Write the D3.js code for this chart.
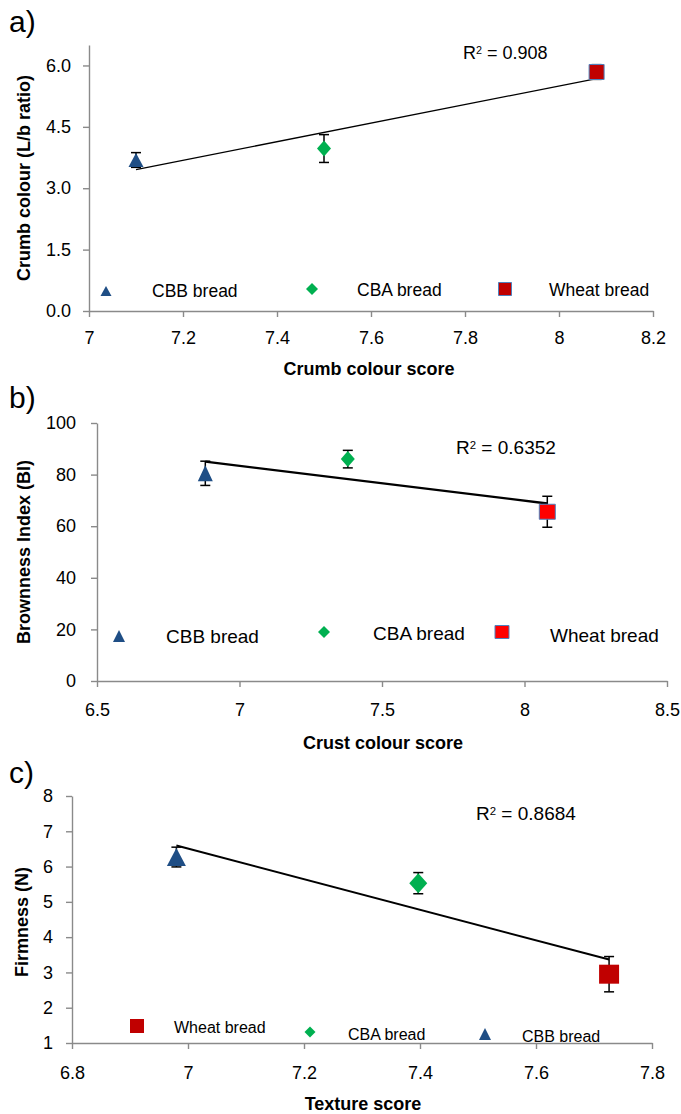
<!DOCTYPE html>
<html>
<head>
<meta charset="utf-8">
<script src="https://cdn.jsdelivr.net/npm/d3@7"></script>
<style>
  body { margin: 0; background: #fff; }
  svg text { font-family: "Liberation Sans", Arial, sans-serif; fill: #000; }
</style>
</head>
<body>
<svg id="chart" width="681" height="1114"></svg>
<script>
// groups (order of the points in a) and b))
var groups = ['CBB bread', 'CBA bread', 'Wheat bread'];

// a) crumb colour
var crumbScore = [7.1, 7.5, 8.08];
var crumbRatio = [3.69, 3.97, 5.84];
var crumbRatioErr = [0.18, 0.34, 0.18];
var crumbXTicks = [7, 7.2, 7.4, 7.6, 7.8, 8, 8.2];
var crumbYTicks = [0, 1.5, 3, 4.5, 6];

// b) crust colour / browning
var crustScore = [6.88, 7.38, 8.08];
var brownIndex = [80.5, 86, 65.6];
var brownIndexErr = [4.7, 3.4, 6];
var crustXTicks = [6.5, 7, 7.5, 8, 8.5];
var brownYTicks = [0, 20, 40, 60, 80, 100];

// c) texture / firmness
var textureScore = [6.98, 7.397, 7.726];
var firmness = [6.27, 5.53, 2.95];
var firmnessErr = [0.28, 0.3, 0.5];
var textureXTicks = [6.8, 7, 7.2, 7.4, 7.6, 7.8];
var firmYTicks = [1, 2, 3, 4, 5, 6, 7, 8];

var r2Labels = ['0.908', '0.6352', '0.8684'];

var svg = d3.select('#chart');

var colors = {'CBB bread': '#1F4E85', 'CBA bread': '#00B050'};

function shape(type, w, h) {
    if (type === 'CBB bread')
        return 'M0,' + (-h / 2) + 'L' + (w / 2) + ',' + (h / 2) + 'L' + (-w / 2) + ',' + (h / 2) + 'Z';
    if (type === 'CBA bread')
        return 'M0,' + (-h / 2) + 'L' + (w / 2) + ',0L0,' + (h / 2) + 'L' + (-w / 2) + ',0Z';
    return 'M' + (-w / 2) + ',' + (-h / 2) + 'h' + w + 'v' + h + 'h' + (-w) + 'Z';
}

function drawPanel(p) {
    var g = svg.append('g');

    var x = d3.scaleLinear().domain(p.xDomain).range([p.left, p.right]);
    var y = d3.scaleLinear().domain(p.yDomain).range([p.bottom, p.top]);

    // axes
    var xAxis = g.append('g')
        .attr('transform', 'translate(0,' + p.bottom + ')')
        .call(d3.axisBottom(x).tickValues(p.xTicks).tickFormat(d3.format('~g'))
            .tickSizeInner(6).tickSizeOuter(0).tickPadding(p.xPad));
    var yAxis = g.append('g')
        .attr('transform', 'translate(' + p.left + ',0)')
        .call(d3.axisLeft(y).tickValues(p.yTicks).tickFormat(p.yFmt)
            .tickSizeInner(6).tickSizeOuter(0).tickPadding(p.yPad));
    [xAxis, yAxis].forEach(function(a) {
        a.select('.domain').attr('stroke', '#8a8a8a').attr('stroke-width', 1.4);
        a.selectAll('.tick line').attr('stroke', '#8a8a8a').attr('stroke-width', 1.4);
        a.selectAll('.tick text').style('font-size', p.tickSize + 'px').attr('fill', '#000');
    });

    // trendline from least squares fit
    var mx = d3.mean(p.xs), my = d3.mean(p.ys);
    var sxy = d3.sum(p.xs, function(v, i) { return (v - mx) * (p.ys[i] - my); });
    var sxx = d3.sum(p.xs, function(v) { return (v - mx) * (v - mx); });
    var slope = sxy / sxx, icpt = my - slope * mx;
    var ext = d3.extent(p.xs);
    g.append('path')
        .datum(ext.map(function(v) { return [v, icpt + slope * v]; }))
        .attr('d', d3.line().x(function(d) { return x(d[0]); }).y(function(d) { return y(d[1]); }))
        .attr('stroke', '#000')
        .attr('stroke-width', p.trendWidth)
        .attr('fill', 'none');

    var pts = p.xs.map(function(v, i) {
        return {x: v, y: p.ys[i], e: p.errs[i], name: groups[i]};
    });

    // error bars
    var eb = g.selectAll('g.err').data(pts).enter().append('g')
        .attr('stroke', '#000').attr('stroke-width', 1.5);
    eb.append('line')
        .attr('x1', function(d) { return x(d.x); })
        .attr('x2', function(d) { return x(d.x); })
        .attr('y1', function(d) { return y(d.y - d.e); })
        .attr('y2', function(d) { return y(d.y + d.e); });
    [-1, 1].forEach(function(s) {
        eb.append('line')
            .attr('x1', function(d) { return x(d.x) - 5; })
            .attr('x2', function(d) { return x(d.x) + 5; })
            .attr('y1', function(d) { return y(d.y + s * d.e); })
            .attr('y2', function(d) { return y(d.y + s * d.e); });
    });

    // markers
    g.selectAll('path.mk').data(pts).enter().append('path')
        .attr('class', 'mk')
        .attr('transform', function(d) { return 'translate(' + x(d.x) + ',' + y(d.y) + ')'; })
        .attr('d', function(d) { var s = p.markSize[d.name]; return shape(d.name, s[0], s[1]); })
        .attr('fill', function(d) { return colors[d.name] || p.wheatFill; })
        .attr('stroke', function(d) { return d.name === 'Wheat bread' ? p.wheatStroke : 'none'; })
        .attr('stroke-width', 1);

    // legend
    var lg = g.selectAll('g.lg').data(p.legend).enter().append('g');
    lg.append('path')
        .attr('transform', function(d) { return 'translate(' + d.mx + ',' + d.my + ')'; })
        .attr('d', function(d) { var s = p.legendSize[d.name]; return shape(d.name, s[0], s[1]); })
        .attr('fill', function(d) { return colors[d.name] || p.wheatFill; })
        .attr('stroke', function(d) { return d.name === 'Wheat bread' ? p.wheatStroke : 'none'; })
        .attr('stroke-width', 1);
    lg.append('text')
        .attr('x', function(d) { return d.tx; })
        .attr('y', function(d) { return d.ty; })
        .attr('dy', '0.35em')
        .style('font-size', p.legendFont + 'px')
        .text(function(d) { return d.name; });

    // R squared
    var r2 = g.append('text')
        .attr('x', p.r2x).attr('y', p.r2y).attr('dy', '0.35em')
        .style('font-size', p.r2Font + 'px');
    r2.append('tspan').text('R');
    r2.append('tspan').attr('dy', '-0.45em').style('font-size', '0.6em').text('2');
    r2.append('tspan').attr('dy', '0.27em').text(' = ' + p.r2);

    // axis titles
    g.append('text')
        .attr('x', p.xTitle[0]).attr('y', p.xTitle[1])
        .attr('text-anchor', 'middle').attr('dy', '0.35em')
        .style('font-size', '18px').style('font-weight', 'bold')
        .text(p.xLabel);
    g.append('text')
        .attr('transform', 'translate(' + p.yTitle[0] + ',' + p.yTitle[1] + ') rotate(-90)')
        .attr('text-anchor', 'middle').attr('dy', '0.35em')
        .style('font-size', '18px').style('font-weight', 'bold')
        .text(p.yLabel);

    // panel letter
    g.append('text')
        .attr('x', 9).attr('y', p.letterY)
        .style('font-size', '30px')
        .text(p.letter);
}

drawPanel({
    letter: 'a)', letterY: 32,
    xs: crumbScore, ys: crumbRatio, errs: crumbRatioErr,
    xDomain: [7, 8.2], yDomain: [0, 6.5],
    xTicks: crumbXTicks, yTicks: crumbYTicks, yFmt: d3.format('.1f'),
    left: 89, right: 653, top: 45, bottom: 311,
    xPad: 14, yPad: 12, tickSize: 18,
    trendWidth: 1.3,
    markSize: {'CBB bread': [15, 14], 'CBA bread': [14, 16], 'Wheat bread': [15, 15]},
    legendSize: {'CBB bread': [11, 10], 'CBA bread': [12, 12], 'Wheat bread': [13, 13]},
    wheatFill: '#C00000', wheatStroke: '#4F81BD',
    legend: [
        {name: 'CBB bread', mx: 106, my: 291, tx: 152, ty: 291},
        {name: 'CBA bread', mx: 312, my: 289, tx: 357, ty: 290},
        {name: 'Wheat bread', mx: 505, my: 289, tx: 549, ty: 290}
    ],
    legendFont: 17.5,
    r2: r2Labels[0], r2x: 463, r2y: 53, r2Font: 18,
    xLabel: 'Crumb colour score', xTitle: [369, 369],
    yLabel: 'Crumb colour (L/b ratio)', yTitle: [24, 178]
});

drawPanel({
    letter: 'b)', letterY: 408,
    xs: crustScore, ys: brownIndex, errs: brownIndexErr,
    xDomain: [6.5, 8.5], yDomain: [0, 100],
    xTicks: crustXTicks, yTicks: brownYTicks, yFmt: d3.format('d'),
    left: 97, right: 667, top: 423, bottom: 681,
    xPad: 16, yPad: 15, tickSize: 18,
    trendWidth: 2.4,
    markSize: {'CBB bread': [15, 16], 'CBA bread': [14, 16], 'Wheat bread': [16, 15]},
    legendSize: {'CBB bread': [12, 12], 'CBA bread': [12, 12], 'Wheat bread': [14, 13]},
    wheatFill: '#FF0000', wheatStroke: '#4F81BD',
    legend: [
        {name: 'CBB bread', mx: 119, my: 636, tx: 166, ty: 636},
        {name: 'CBA bread', mx: 324, my: 632, tx: 373, ty: 633},
        {name: 'Wheat bread', mx: 502, my: 632, tx: 550, ty: 635}
    ],
    legendFont: 19,
    r2: r2Labels[1], r2x: 456, r2y: 447, r2Font: 19,
    xLabel: 'Crust colour score', xTitle: [383, 743],
    yLabel: 'Brownness Index (BI)', yTitle: [24, 552]
});

drawPanel({
    letter: 'c)', letterY: 783,
    xs: textureScore, ys: firmness, errs: firmnessErr,
    xDomain: [6.8, 7.8], yDomain: [1, 8],
    xTicks: textureXTicks, yTicks: firmYTicks, yFmt: d3.format('d'),
    left: 72, right: 652, top: 796, bottom: 1043,
    xPad: 17, yPad: 13, tickSize: 18,
    trendWidth: 2,
    markSize: {'CBB bread': [19, 18], 'CBA bread': [18, 20], 'Wheat bread': [20, 19]},
    legendSize: {'CBB bread': [12, 12], 'CBA bread': [11, 11], 'Wheat bread': [14, 14]},
    wheatFill: '#C00000', wheatStroke: 'none',
    legend: [
        {name: 'Wheat bread', mx: 137, my: 1026, tx: 174, ty: 1027},
        {name: 'CBA bread', mx: 310, my: 1032, tx: 348, ty: 1034},
        {name: 'CBB bread', mx: 485, my: 1034, tx: 522, ty: 1036}
    ],
    legendFont: 16,
    r2: r2Labels[2], r2x: 476, r2y: 813, r2Font: 19,
    xLabel: 'Texture score', xTitle: [363, 1104],
    yLabel: 'Firmness (N)', yTitle: [22, 922]
});
</script>
</body>
</html>
